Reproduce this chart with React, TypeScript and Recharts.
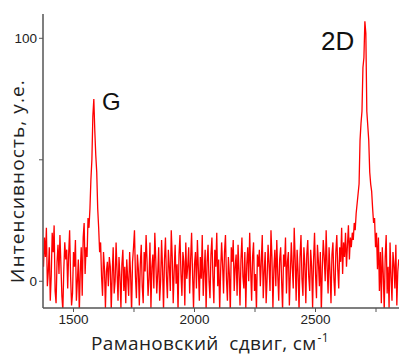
import { LineChart, Line, XAxis, YAxis } from 'recharts'

// Raman shift grid: first point and step (cm-1)
const SHIFT_START = 1376
const SHIFT_STEP = 4

// intensity, one value per grid point (25 per 100 cm-1)
const INTENSITY = [
  6, 18, 10, 22, -2, 4, 14, -8, 2, 20, 12, 23, -4, -9, 8, 15, 3, 19, 7, -6, -12, 5, 16, 9, 13,
  -3, 11, 21, 2, -10, -5, 12, 6, 17, -8, 0, 9, -13, 4, 14, -6, 18, 24, 3, 14, 10, 26, 22, 30, 42,
  50, 68, 75, 62, 52, 45, 30, 22, 12, 16, 2, -6, 12, 5, -11, 4, 8, -2, 10, 6, -12, 3, 14, -5, 0,
  16, 4, -8, 10, 2, -11, 7, 13, -4, 6, -9, 9, 1, -6, 12, 3, -13, 8, 14, 21, 2, -7, 11, 5, -10,
  7, 15, -2, -9, 12, 4, 19, 8, -6, 1, 16, -11, 6, 11, -3, 20, 9, -5, 3, 14, -8, 0, 17, 5, -12,
  9, 18, 2, -7, 13, 6, -4, 21, 10, -9, 4, 15, -1, 7, -12, 11, 19, 3, -6, 12, 8, -10, 16, 1, 6,
  14, -5, 9, 20, 3, -11, 7, 12, -3, 17, 5, -8, 10, 1, 19, -6, 4, 13, -12, 8, 15, 0, -7, 11, 18,
  2, -9, 13, 6, 20, -2, 9, -12, 4, 16, 7, -5, 12, 19, 1, -8, 10, 3, -13, 14, 8, 17, -4, 6, 11,
  -6, 15, 4, -10, 9, 18, 2, -3, 12, -11, 7, 14, 0, 20, 5, -8, 10, 16, -4, 3, -12, 11, 6, 13, -2,
  8, 19, -7, 4, 12, -9, 1, 15, 7, -4, 21, 10, -11, 5, 13, -2, 17, 3, -8, 9, 14, 0, -12, 11, 6,
  18, -5, 8, 12, -10, 3, 16, 6, -3, 22, 9, -8, 13, 4, -12, 10, 19, 1, -6, 14, 7, -9, 11, 17, 2,
  -4, 13, 6, -11, 9, 20, 3, -7, 15, 8, -2, 12, -13, 5, 17, 10, 0, 21, 6, -5, 14, 4, -9, 11, 16,
  1, -6, 12, 19, 5, -3, 14, 8, 22, 3, 16, 10, 20, 6, 15, 23, 9, 18, 14, 20, 17, 24, 21, 28, 32,
  36, 40, 58, 65, 70, 88, 92, 107, 102, 70, 64, 58, 45, 40, 37, 30, 24, 26, 14, 20, 5, 18, -4, 12, -9,
  14, 3, -12, 10, 19, -5, 6, -11, 16, 2, -8, 12, 7, -3, 15, -10, 4, 9,
]

const X_TICKS = [1500, 1750, 2000, 2250, 2500, 2750]
const X_LABELED = [1500, 2000, 2500]
const Y_TICKS = [0, 50, 100]
const Y_LABELED = [0, 100]

const data = INTENSITY.map((v, i) => ({ shift: SHIFT_START + i * SHIFT_STEP, intensity: v }))

const AXIS = '#555'
const tickStyle = { fontSize: 13.5, fill: '#222', fontFamily: 'Liberation Sans, Arial, sans-serif' }
const titleFont = { fontSize: 19, fontFamily: 'Open Sans, sans-serif', color: '#222', whiteSpace: 'nowrap' as const }

export default function App() {
  return (
    <div
      style={{
        position: 'absolute',
        left: 0,
        top: 0,
        width: 399,
        height: 356,
        overflow: 'hidden',
        background: '#fff',
      }}
    >
      <LineChart width={399} height={356} data={data} margin={{ top: 14, right: 0, bottom: 18, left: 0 }}>
        <XAxis
          xAxisId="top"
          orientation="top"
          dataKey="shift"
          type="number"
          domain={[1374, 2845]}
          height={0}
          tick={false}
          tickLine={false}
          axisLine={{ stroke: AXIS, strokeWidth: 1.5 }}
        />
        <XAxis
          dataKey="shift"
          type="number"
          domain={[1374, 2845]}
          allowDataOverflow
          ticks={X_TICKS}
          tickFormatter={(v: number) => (X_LABELED.includes(v) ? String(v) : '')}
          height={30}
          tickSize={4}
          tick={tickStyle}
          tickLine={{ stroke: AXIS }}
          axisLine={{ stroke: AXIS, strokeWidth: 1.5 }}
        />
        <YAxis
          type="number"
          domain={[-11, 110]}
          allowDataOverflow
          ticks={Y_TICKS}
          tickFormatter={(v: number) => (Y_LABELED.includes(v) ? String(v) : '')}
          width={43}
          tickSize={4}
          tick={tickStyle}
          tickLine={{ stroke: AXIS }}
          axisLine={{ stroke: AXIS, strokeWidth: 1.5 }}
        />
        <Line
          dataKey="intensity"
          xAxisId={0}
          stroke="#ff0000"
          strokeWidth={1.3}
          dot={false}
          isAnimationActive={false}
        />
      </LineChart>

      {/* peak labels */}
      <div style={{ position: 'absolute', left: 102, top: 88, fontSize: 24, fontFamily: 'Liberation Sans, Arial, sans-serif', color: '#111' }}>
        G
      </div>
      <div style={{ position: 'absolute', left: 321, top: 26, fontSize: 26, fontFamily: 'Liberation Sans, Arial, sans-serif', color: '#111' }}>
        2D
      </div>

      {/* axis titles */}
      <div
        style={{
          ...titleFont,
          position: 'absolute',
          left: 17,
          top: 181,
          lineHeight: '26px',
          letterSpacing: 1.1,
          transform: 'translate(-50%, -50%) rotate(-90deg)',
        }}
      >
        Интенсивность, у.е.
      </div>
      <div
        style={{
          ...titleFont,
          position: 'absolute',
          left: 91,
          top: 330,
          lineHeight: '26px',
          letterSpacing: 0.35,
        }}
      >
        Рамановский&nbsp; сдвиг, см
        <span style={{ position: 'relative', top: -8, fontSize: 12, marginLeft: 1 }}>-1</span>
      </div>
    </div>
  )
}
